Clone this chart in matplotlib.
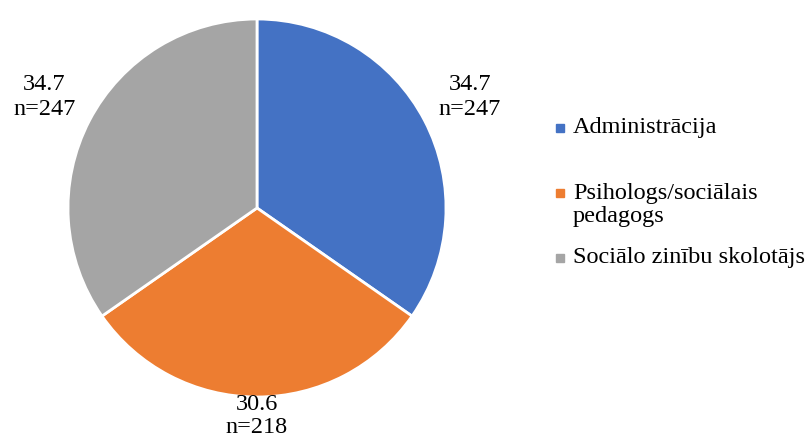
import numpy as np
import matplotlib.pyplot as plt
from matplotlib.patches import Rectangle

labels = ['Administrācija', 'Psihologs/sociālais\npedagogs', 'Sociālo zinību skolotājs']
counts = [247, 218, 247]
percents = ['34.7', '30.6', '34.7']
colors = ['#4472C4', '#ED7D31', '#A5A5A5']
label_dist = [1.27, 1.10, 1.27]

plt.rcParams['font.family'] = ['Liberation Serif', 'DejaVu Serif']
fs = 17.5

fig = plt.figure(figsize=(8.1, 4.4), dpi=100)
cx, cy, r = 257, 232, 189
ax = fig.add_axes([(cx - r) / 810, (cy - r) / 440, 2 * r / 810, 2 * r / 440])
wedges, _ = ax.pie(counts, colors=colors, startangle=90, counterclock=False,
                   wedgeprops=dict(edgecolor='white', linewidth=2))
ax.set_xlim(-1, 1)
ax.set_ylim(-1, 1)
ax.set_aspect('equal')

for w, p, n, d in zip(wedges, percents, counts, label_dist):
    mid = np.deg2rad((w.theta1 + w.theta2) / 2)
    ls = 1.3 if d > 1.2 else 1.1
    ax.text(d * np.cos(mid), d * np.sin(mid), f'{p}\nn={n}', ha='center', va='center',
            fontsize=fs, linespacing=ls, clip_on=False)

# legend
ys = [128, 205, 258]
for lab, c, y in zip(labels, colors, ys):
    sq_y = y - 12 if '\n' in lab else y
    fig.patches.append(Rectangle((556 / 810, (440 - sq_y - 4) / 440), 8 / 810, 8 / 440,
                                 transform=fig.transFigure, color=c))
    fig.text(573 / 810, (440 - y) / 440, lab, ha='left', va='center',
             fontsize=fs, linespacing=1.15)

fig.savefig('out.png', dpi=100)
